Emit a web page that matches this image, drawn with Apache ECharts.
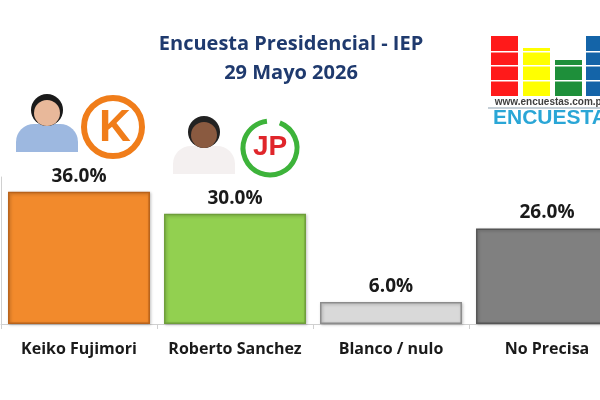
<!DOCTYPE html>
<html>
<head>
    <meta charset="UTF-8">
    <title>Encuesta Presidencial - IEP</title>
    <script src="https://cdn.jsdelivr.net/npm/echarts@6/dist/echarts.min.js"></script>
    <style>
        html, body { margin: 0; padding: 0; background: #ffffff; overflow: hidden; }
        /* the plot runs past the right edge of the picture, as in the original */
        #chart { width: 625px; height: 400px; }
    </style>
</head>
<body>
<div id="chart"></div>
<script type="text/javascript">
    // data
    var categories = ['Keiko Fujimori', 'Roberto Sanchez', 'Blanco / nulo', 'No Precisa'];
    var values = [36.0, 30.0, 6.0, 26.0];
    var barColors = ['#F28A2C', '#92D050', '#D9D9D9', '#808080'];
    var borderColors = ['#B9621A', '#6E9E3A', '#8C8C8C', '#555555'];

    var chart = echarts.init(document.getElementById('chart'));
    var font = '"Open Sans", "Noto Sans", sans-serif';
    var navy = '#1F3A6E';

    var chartData = [];
    for (var i = 0; i < values.length; i++) {
        chartData.push({
            value: values[i],
            itemStyle: {
                color: barColors[i],
                borderColor: borderColors[i],
                borderWidth: 1.5,
                shadowColor: 'rgba(0,0,0,0.25)',
                shadowBlur: 3,
                shadowOffsetX: 1,
                shadowOffsetY: 1
            }
        });
    }

    // small decorations: party logos, silhouettes and the site logo
    function person(x, y, skin, hair, shirt) {
        return {
            type: 'group', left: x, top: y,
            children: [
                { type: 'rect', shape: { x: 0, y: 36, width: 62, height: 28, r: [18, 18, 0, 0] }, style: { fill: shirt } },
                { type: 'circle', shape: { cx: 31, cy: 22, r: 16 }, style: { fill: hair } },
                { type: 'circle', shape: { cx: 31, cy: 25, r: 13 }, style: { fill: skin } }
            ]
        };
    }

    var logoCols = [
        { x: 491, top: 36, color: '#FF1A1A' },
        { x: 523, top: 48, color: '#FFFF00' },
        { x: 555, top: 60, color: '#1E8F3A' },
        { x: 586, top: 36, color: '#1464A8' }
    ];
    var logoParts = [];
    logoCols.forEach(function (c) {
        logoParts.push({ type: 'rect', shape: { x: c.x, y: c.top, width: 27, height: 96 - c.top }, style: { fill: c.color } });
    });
    [51, 65, 80].forEach(function (yy) {
        logoParts.push({ type: 'rect', shape: { x: 488, y: yy, width: 115, height: 1.5 }, style: { fill: '#ffffff' } });
    });
    logoParts.push({ type: 'text', x: 551, y: 102, style: { text: 'www.encuestas.com.pe', fill: '#404040', font: 'bold 10px "Liberation Sans Narrow", "Liberation Sans", sans-serif', align: 'center', verticalAlign: 'middle' } });
    logoParts.push({ type: 'rect', shape: { x: 488, y: 107.5, width: 115, height: 1 }, style: { fill: '#8CA0B0' } });
    logoParts.push({ type: 'text', x: 493, y: 118, style: { text: 'ENCUESTAS', fill: '#2AA6D6', font: 'bold 21px "Liberation Sans", sans-serif', align: 'left', verticalAlign: 'middle' } });

    var option = {
        animation: false,
        backgroundColor: '#ffffff',
        title: [
            {
                text: 'Encuesta Presidencial - IEP',
                left: 286, top: 29, textAlign: 'center',
                textStyle: { color: navy, fontSize: 20, fontWeight: 'bold', fontFamily: font }
            },
            {
                text: '29 Mayo 2026',
                left: 286, top: 58, textAlign: 'center',
                textStyle: { color: navy, fontSize: 20, fontWeight: 'bold', fontFamily: font }
            }
        ],
        grid: { left: 1, right: 0, top: 177, bottom: 76, containLabel: false },
        xAxis: {
            type: 'category',
            data: categories,
            axisLine: { lineStyle: { color: '#D0D0D0' } },
            axisTick: { show: true, alignWithLabel: false, lineStyle: { color: '#D0D0D0' }, length: 5 },
            axisLabel: { interval: 0, color: '#1a1a1a', fontSize: 16, fontWeight: 'bold', fontFamily: font, margin: 17 }
        },
        yAxis: {
            type: 'value',
            min: 0, max: 40,
            axisLine: { show: true, lineStyle: { color: '#D0D0D0' } },
            axisTick: { show: false },
            axisLabel: { show: false },
            splitLine: { show: false }
        },
        series: [{
            type: 'bar',
            data: chartData,
            barCategoryGap: '9%',
            label: {
                show: true,
                position: 'top',
                distance: 6,
                formatter: function (p) { return p.value.toFixed(1) + '%'; },
                color: '#1a1a1a',
                fontSize: 19,
                fontWeight: 'bold',
                fontFamily: font
            }
        }],
        graphic: [
            person(16, 94, '#E8B89A', '#1A1A1A', '#9DB8E0'),
            { type: 'circle', shape: { cx: 113, cy: 127, r: 29 }, style: { fill: 'none', stroke: '#F07D1A', lineWidth: 6 } },
            { type: 'text', x: 115, y: 129, style: { text: 'K', fill: '#F07D1A', font: 'bold 44px "Liberation Sans", sans-serif', align: 'center', verticalAlign: 'middle' } },
            person(173, 116, '#8A5A40', '#222222', '#F4F0F0'),
            { type: 'arc', shape: { cx: 270, cy: 148, r: 27, startAngle: -1.2, endAngle: 4.6 }, style: { fill: 'none', stroke: '#3DB33A', lineWidth: 5 } },
            { type: 'text', x: 270, y: 147, style: { text: 'JP', fill: '#E0262B', font: 'bold 28px "Liberation Sans", sans-serif', align: 'center', verticalAlign: 'middle' } },
            { type: 'group', children: logoParts }
        ]
    };
    chart.setOption(option);
</script>
</body>
</html>
